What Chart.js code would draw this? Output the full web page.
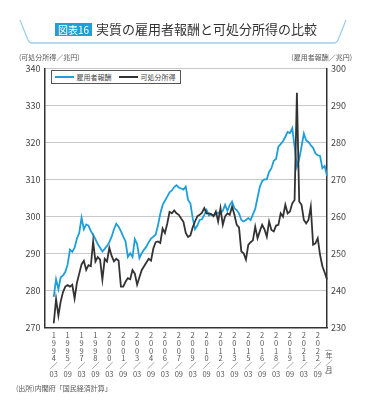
<!DOCTYPE html>
<html>
<head>
<meta charset="utf-8">
<script src="https://cdn.jsdelivr.net/npm/chart.js@4/dist/chart.umd.min.js"></script>
<style>
  html, body { margin: 0; padding: 0; background: #fff; }
  body { width: 365px; height: 417px; position: relative; overflow: hidden;
         font-family: "Noto Sans CJK JP", "Noto Sans", sans-serif; color: #444; }
  #c { position: absolute; left: 0; top: 0; }
  .abs { position: absolute; white-space: nowrap; }
  #tag { left: 55px; top: 23px; height: 13px; line-height: 13px; padding: 0 3px;
         background: #1e9fd8; color: #fff; font-size: 10px; }
  #title { left: 96px; top: 20px; font-size: 13px; line-height: 17px; color: #333; }
  .unit { top: 52px; font-size: 7px; color: #555; line-height: 10px; }
  #legend { left: 50.5px; top: 69.5px; height: 12px; padding: 0 4px 0 2px; border: 1px solid #555;
            background: #fff; font-size: 7px; line-height: 12px; color: #444; display: flex; align-items: center; z-index: 2; }
  #legend .sw { display: inline-block; width: 19px; height: 2px; margin: 0 3px 0 1px; }
  #legend .item { display: flex; align-items: center; margin-right: 6px; }
  #src { left: 16px; top: 383px; font-size: 7px; color: #555; line-height: 10px; }
  #ym { left: 324px; top: 349px; font-size: 7px; color: #555; writing-mode: vertical-rl; line-height: 9px; }
  svg { position: absolute; left: 0; top: 0; }
</style>
</head>
<body>
<canvas id="c" width="365" height="417"></canvas>
<svg width="365" height="60"><path d="M20,20 L28,40 Q29.5,43 32,43 L334,43 Q336.5,43 338,40 L346,20" fill="none" stroke="#9dd0e6" stroke-width="1.3"/></svg>
<div class="abs" id="tag">図表16</div>
<div class="abs" id="title">実質の雇用者報酬と可処分所得の比較</div>
<div class="abs unit" style="left:19px;">(可処分所得／兆円)</div>
<div class="abs unit" style="right:13px;">(雇用者報酬／兆円)</div>
<div class="abs" id="legend">
  <span class="item"><span class="sw" style="background:#1e9fd8"></span>雇用者報酬</span>
  <span class="item" style="margin-right:0"><span class="sw" style="background:#333"></span>可処分所得</span>
</div>
<div class="abs" id="src">(出所)内閣府「国民経済計算」</div>
<div class="abs" id="ym">(年／月)</div>
<script>
// Quarter categories for the horizontal axis (axis starts one year before the data)
const quarters = [
  '1993/03','1993/06','1993/09','1993/12','1994/03','1994/06','1994/09','1994/12',
  '1995/03','1995/06','1995/09','1995/12','1996/03','1996/06','1996/09','1996/12',
  '1997/03','1997/06','1997/09','1997/12','1998/03','1998/06','1998/09','1998/12',
  '1999/03','1999/06','1999/09','1999/12','2000/03','2000/06','2000/09','2000/12',
  '2001/03','2001/06','2001/09','2001/12','2002/03','2002/06','2002/09','2002/12',
  '2003/03','2003/06','2003/09','2003/12','2004/03','2004/06','2004/09','2004/12',
  '2005/03','2005/06','2005/09','2005/12','2006/03','2006/06','2006/09','2006/12',
  '2007/03','2007/06','2007/09','2007/12','2008/03','2008/06','2008/09','2008/12',
  '2009/03','2009/06','2009/09','2009/12','2010/03','2010/06','2010/09','2010/12',
  '2011/03','2011/06','2011/09','2011/12','2012/03','2012/06','2012/09','2012/12',
  '2013/03','2013/06','2013/09','2013/12','2014/03','2014/06','2014/09','2014/12',
  '2015/03','2015/06','2015/09','2015/12','2016/03','2016/06','2016/09','2016/12',
  '2017/03','2017/06','2017/09','2017/12','2018/03','2018/06','2018/09','2018/12',
  '2019/03','2019/06','2019/09','2019/12','2020/03','2020/06','2020/09','2020/12',
  '2021/03','2021/06','2021/09','2021/12','2022/03','2022/06','2022/09','2022/12',
  '2023/03','2023/06','2023/09'
];
// Data period starts at this quarter
const dataStart = '1994/03';

// Tick labels shown on the horizontal axis
const xTickLabels = ['1994/03','1995/09','1997/03','1998/09','2000/03','2001/09','2003/03',
  '2004/09','2006/03','2007/09','2009/03','2010/09','2012/03','2013/09','2015/03','2016/09',
  '2018/03','2019/09','2021/03','2022/09'];

// 雇用者報酬 (right axis, 兆円), quarterly from 1994/03
const compensation = [
  238.2,243.0,240.3,243.5,244.0,245.0,247.0,251.0,250.4,251.5,
  254.0,255.5,259.6,256.5,257.8,257.5,256.0,255.0,253.8,252.5,
  251.5,250.5,251.2,252.0,253.0,254.5,256.5,258.0,257.2,256.0,
  254.5,253.2,249.0,250.0,249.0,253.8,252.5,248.7,250.0,251.0,
  251.8,253.0,254.0,254.5,255.0,257.5,260.7,263.0,264.2,265.3,
  266.5,267.0,267.9,268.4,267.8,267.5,267.2,268.0,264.4,263.5,
  259.5,256.5,257.5,259.0,259.2,260.4,261.7,260.2,260.5,260.3,
  260.5,261.0,260.8,261.5,263.1,261.5,263.0,264.0,262.2,261.7,
  260.8,259.0,258.6,259.0,259.5,259.0,260.5,262.0,265.0,268.0,
  269.5,270.0,270.0,272.0,273.0,275.0,275.5,278.8,279.5,280.3,
  281.5,282.8,282.5,283.8,278.8,273.4,275.5,278.8,282.4,280.5,
  280.1,279.2,278.5,277.0,276.5,276.3,273.0,273.6,270.9
];
// 可処分所得 (left axis, 兆円), quarterly from 1994/03
const disposableIncome = [
  271.1,277.6,273.2,277.0,279.5,281.0,281.4,281.0,281.5,277.8,
  282.0,284.5,287.0,288.0,285.5,286.8,286.5,293.2,287.8,289.0,
  288.3,282.9,288.5,287.8,291.5,289.3,287.8,288.5,288.0,281.0,
  281.0,282.3,283.3,283.0,285.5,284.5,281.5,283.5,285.5,286.5,
  287.5,288.5,288.0,291.3,293.0,293.2,292.8,296.7,295.5,298.0,
  301.2,300.8,301.6,300.8,300.4,299.4,298.5,295.5,294.4,294.8,
  297.0,298.6,300.0,300.4,301.0,302.2,300.8,300.8,300.6,300.0,
  301.3,298.6,302.2,297.7,300.0,300.8,300.4,302.6,300.5,297.7,
  297.0,290.5,290.0,288.3,292.3,293.0,293.5,297.2,294.1,296.0,
  297.7,296.5,294.5,298.6,296.3,295.9,297.5,297.7,300.8,299.9,
  303.1,300.8,301.3,303.5,304.4,333.4,304.0,303.1,299.0,298.1,
  299.0,302.6,292.3,292.7,294.1,289.6,286.5,284.8,282.9
];

const leftTicks = { min: 270, max: 340, step: 10 };
const rightTicks = { min: 230, max: 300, step: 10 };

const startIdx = quarters.indexOf(dataStart);
const toPoints = arr => arr.map((v, i) => ({ x: quarters[startIdx + i], y: v }));

const FONT = '"Noto Sans CJK JP", "Noto Sans", sans-serif';

new Chart(document.getElementById('c'), {
  type: 'line',
  data: {
    labels: quarters,
    datasets: [
      { label: '可処分所得', data: toPoints(disposableIncome), yAxisID: 'y',
        borderColor: '#333333', borderWidth: 1.8, pointRadius: 0, tension: 0, order: 0 },
      { label: '雇用者報酬', data: toPoints(compensation), yAxisID: 'y2',
        borderColor: '#1e9fd8', borderWidth: 1.8, pointRadius: 0, tension: 0, order: 1 }
    ]
  },
  options: {
    responsive: false,
    devicePixelRatio: 1,
    animation: false,
    layout: { padding: { left: 0, right: 0, top: 68.3, bottom: 0 } },
    plugins: { legend: { display: false }, tooltip: { enabled: false } },
    scales: {
      x: {
        type: 'category',
        offset: false,
        grid: { display: false, drawTicks: false },
        border: { display: true, color: '#333', width: 1.5 },
        ticks: {
          autoSkip: false, maxRotation: 0, minRotation: 0, padding: 4,
          color: '#555', font: { family: FONT, size: 7.5, lineHeight: 1.04 },
          callback: function (val, idx) {
            const l = quarters[idx];
            if (!xTickLabels.includes(l)) return null;
            return [l[0], l[1], l[2], l[3], '／', l.slice(5)];
          }
        },
        afterFit: s => { s.height = 417 - 327.3; }
      },
      y: {
        position: 'left',
        min: leftTicks.min, max: leftTicks.max,
        grid: { color: '#c8c8c8', lineWidth: 1, drawTicks: false },
        border: { display: true, color: '#333', width: 1.5 },
        ticks: { stepSize: leftTicks.step, padding: 4, color: '#444', font: { family: FONT, size: 9 } },
        afterFit: s => { s.width = 44.5; }
      },
      y2: {
        position: 'right',
        min: rightTicks.min, max: rightTicks.max,
        grid: { drawOnChartArea: false, drawTicks: false },
        border: { display: true, color: '#333', width: 1.5 },
        ticks: { stepSize: rightTicks.step, padding: 4, color: '#444', font: { family: FONT, size: 9 } },
        afterFit: s => { s.width = 38; }
      }
    }
  }
});
</script>
</body>
</html>
